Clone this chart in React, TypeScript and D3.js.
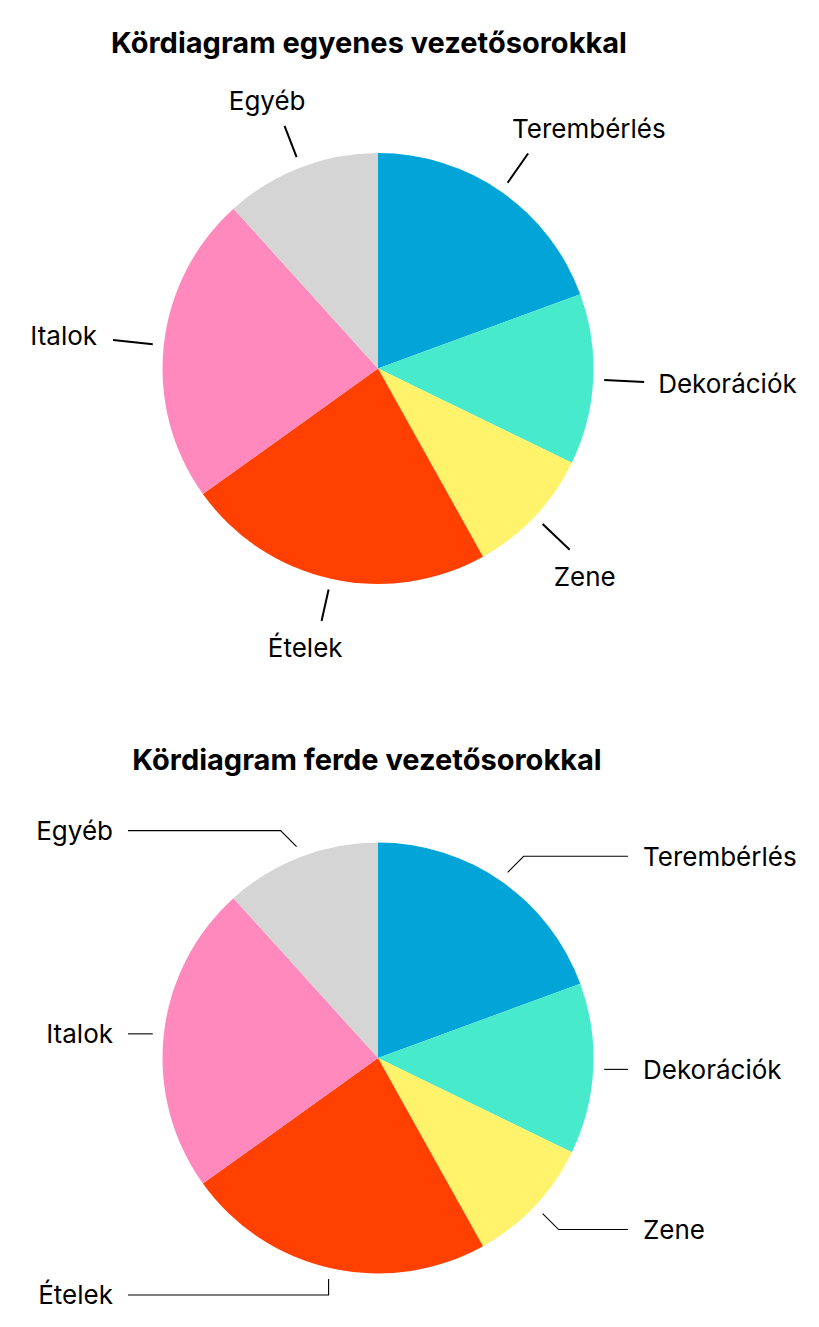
import React from 'react';
import * as d3 from 'd3';

// Expense categories, clockwise from 12 o'clock
const categories = ['Terembérlés', 'Dekorációk', 'Zene', 'Ételek', 'Italok', 'Egyéb'];
const shares = [19.4, 12.8, 9.7, 23.2, 23.2, 11.7];
const colors = ['#03A4D8', '#47EACB', '#FFF36B', '#FF4000', '#FF89BD', '#D5D5D5'];
const titles = ['Kördiagram egyenes vezetősorokkal', 'Kördiagram ferde vezetősorokkal'];

const W = 819;
const H = 1327;
const R = 215.5;
const FONT = 'Inter, "Noto Sans", sans-serif';
const LABEL_SIZE = 26;
const TITLE_SIZE = 29;

const pie = d3.pie<number>().sort(null).value(d => d);
const arc = d3.arc<d3.PieArcDatum<number>>().innerRadius(0).outerRadius(R);

const polar = (a: number, r: number): [number, number] => [Math.sin(a) * r, -Math.cos(a) * r];

// Pie with straight radial leader lines
const StraightPie: React.FC<{ cx: number; cy: number }> = ({ cx, cy }) => {
  const slices = pie(shares);
  return (
    <g transform={`translate(${cx},${cy})`}>
      {slices.map((s, i) => (
        <path key={i} d={arc(s) || ''} fill={colors[i]} />
      ))}
      {slices.map((s, i) => {
        const a = (s.startAngle + s.endAngle) / 2;
        const sin = Math.sin(a);
        const cos = Math.cos(a);
        const [x0, y0] = polar(a, R + 11);
        const [x1, y1] = polar(a, R + 41 + 10 * Math.abs(sin));
        let tx: number, ty: number;
        const anchor = sin > 0 ? 'start' : 'end';
        if (Math.abs(cos) < 0.3) {
          tx = x1 + (sin > 0 ? 14 : -16);
          ty = y1 - cos * 40;
        } else {
          tx = sin > 0 ? x1 - 16 : x1 + 21;
          ty = cos > 0 ? y1 - 25 : y1 + 27;
        }
        return (
          <g key={'l' + i}>
            <line x1={x0} y1={y0} x2={x1} y2={y1} stroke="#000" strokeWidth={2} />
            <text x={tx} y={ty} dy="0.36em" textAnchor={anchor}
              style={{ fontFamily: FONT, fontSize: LABEL_SIZE, fill: '#000' }}>
              {categories[i]}
            </text>
          </g>
        );
      })}
    </g>
  );
};

// Pie with bent (elbow) leader lines ending in two label columns
const ElbowPie: React.FC<{ cx: number; cy: number }> = ({ cx, cy }) => {
  const slices = pie(shares);
  const rightEnd = 628 - cx;
  const leftEnd = 128 - cx;
  return (
    <g transform={`translate(${cx},${cy})`}>
      {slices.map((s, i) => (
        <path key={i} d={arc(s) || ''} fill={colors[i]} />
      ))}
      {slices.map((s, i) => {
        const a = (s.startAngle + s.endAngle) / 2;
        const sin = Math.sin(a);
        const cos = Math.cos(a);
        const [x0, y0] = polar(a, R + 11);
        let ex = x0;
        let ey = y0;
        if (Math.abs(cos) >= 0.3) {
          ey = y0 + (cos > 0 ? -16 : 16);
          ex = Math.abs(sin) < 0.3 ? x0 : x0 + (sin > 0 ? 16 : -16);
        }
        const right = sin > 0;
        const hx = right ? rightEnd : leftEnd;
        const tx = right ? hx + 15 : hx - 15;
        return (
          <g key={'l' + i}>
            <polyline points={`${x0},${y0} ${ex},${ey} ${hx},${ey}`}
              fill="none" stroke="#000" strokeWidth={1.1} />
            <text x={tx} y={ey} dy="0.36em" textAnchor={right ? 'start' : 'end'}
              style={{ fontFamily: FONT, fontSize: LABEL_SIZE, fill: '#000' }}>
              {categories[i]}
            </text>
          </g>
        );
      })}
    </g>
  );
};

export default function App() {
  return (
    <svg width={W} height={H} viewBox={`0 0 ${W} ${H}`}
      style={{ position: 'absolute', left: 0, top: 0, background: '#fff' }}>
      <rect width={W} height={H} fill="#fff" />
      <text x={369} y={53} textAnchor="middle"
        style={{ fontFamily: FONT, fontSize: TITLE_SIZE, fontWeight: 700, fill: '#000' }}>
        {titles[0]}
      </text>
      <StraightPie cx={378} cy={368.5} />
      <text x={367} y={770} textAnchor="middle"
        style={{ fontFamily: FONT, fontSize: TITLE_SIZE, fontWeight: 700, fill: '#000' }}>
        {titles[1]}
      </text>
      <ElbowPie cx={378} cy={1058} />
    </svg>
  );
}
